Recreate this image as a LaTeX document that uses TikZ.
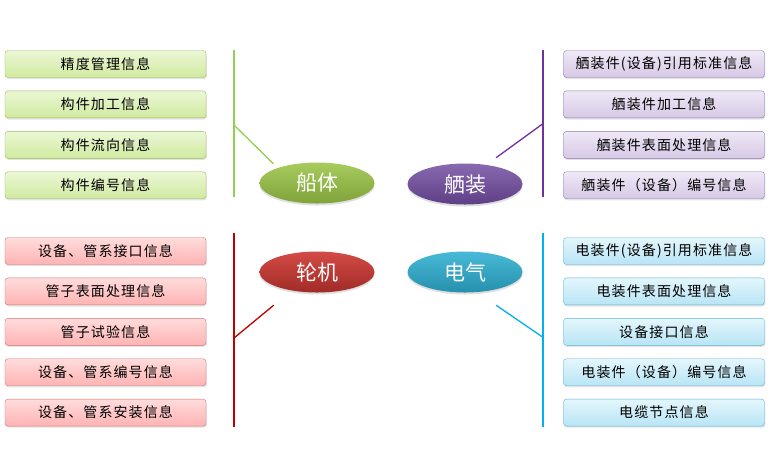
\documentclass[tikz,border=0pt]{standalone}
\usepackage{fontspec}
\newfontfamily\cjk{Noto Sans CJK SC}
\usetikzlibrary{
  positioning,
  shadows,
  shapes.geometric
}
\definecolor{hullline}{HTML}{92D050}
\definecolor{outfitline}{HTML}{7030A0}
\definecolor{engineline}{HTML}{C00000}
\definecolor{electricline}{HTML}{00B0F0}
\definecolor{hulltop}{HTML}{EBF7D5}
\definecolor{hullbottom}{HTML}{D0EAA0}
\definecolor{hullborder}{HTML}{9BBB59}
\definecolor{outfittop}{HTML}{EFE9F6}
\definecolor{outfitbottom}{HTML}{D6C8E6}
\definecolor{outfitborder}{HTML}{8E77AE}
\definecolor{enginetop}{HTML}{FFDCDC}
\definecolor{enginebottom}{HTML}{FFB3B3}
\definecolor{engineborder}{HTML}{D07573}
\definecolor{electrictop}{HTML}{E4F6FC}
\definecolor{electricbottom}{HTML}{B8E5F5}
\definecolor{electricborder}{HTML}{5FB6D0}
\definecolor{hullhubtop}{HTML}{A9CB5E}
\definecolor{hullhubbottom}{HTML}{7FA23A}
\definecolor{outfithubtop}{HTML}{8968B0}
\definecolor{outfithubbottom}{HTML}{5E3F86}
\definecolor{enginehubtop}{HTML}{D44B46}
\definecolor{enginehubbottom}{HTML}{A02B27}
\definecolor{electrichubtop}{HTML}{47BAD6}
\definecolor{electrichubbottom}{HTML}{2690AE}
\tikzset{
  infobox/.style={
    rounded corners=3pt,
    minimum width=201pt,
    minimum height=27pt,
    inner sep=0pt,
    font=\cjk\addfontfeature{LetterSpace=8}\fontsize{14}{16}\selectfont,
    drop shadow={shadow xshift=0.8pt, shadow yshift=-1.6pt, opacity=0.22}
  },
  hullbox/.style={infobox, draw=hullborder, top color=hulltop,
    bottom color=hullbottom},
  outfitbox/.style={infobox, draw=outfitborder, top color=outfittop,
    bottom color=outfitbottom},
  enginebox/.style={infobox, draw=engineborder, top color=enginetop,
    bottom color=enginebottom},
  electricbox/.style={infobox, draw=electricborder, top color=electrictop,
    bottom color=electricbottom},
  hub/.style={
    ellipse,
    minimum width=115pt,
    minimum height=41pt,
    inner sep=0pt,
    text=white,
    font=\cjk\fontsize{21}{23}\selectfont,
    drop shadow={shadow xshift=0pt, shadow yshift=-2pt, opacity=0.25}
  },
  spine/.style={line width=2pt},
  twig/.style={line width=1.3pt}
}

\begin{document}
\begin{tikzpicture}[x=1pt, y=-1pt, node distance=13pt]
  \useasboundingbox (0,0) rectangle (775,467);

  % Hub ellipses.
  \node[hub, top color=hullhubtop, bottom color=hullhubbottom]
    (hull) at (317,183) {船体};
  \node[hub, top color=outfithubtop, bottom color=outfithubbottom]
    (outfit) at (465,184) {舾装};
  \node[hub, top color=enginehubtop, bottom color=enginehubbottom]
    (engine) at (317,272) {轮机};
  \node[hub, top color=electrichubtop, bottom color=electrichubbottom]
    (electric) at (465,272) {电气};

  % Hull column.
  \node[hullbox] (hull1) at (105.5,64) {精度管理信息};
  \node[hullbox, below=of hull1] (hull2) {构件加工信息};
  \node[hullbox, below=of hull2] (hull3) {构件流向信息};
  \node[hullbox, below=of hull3] (hull4) {构件编号信息};

  % Outfitting column.
  \node[outfitbox] (outfit1) at (664,64) {舾装件(设备)引用标准信息};
  \node[outfitbox, below=of outfit1] (outfit2) {舾装件加工信息};
  \node[outfitbox, below=of outfit2] (outfit3) {舾装件表面处理信息};
  \node[outfitbox, below=of outfit3] (outfit4) {舾装件（设备）编号信息};

  % Engine column.
  \node[enginebox] (engine1) at (105.5,251) {设备、管系接口信息};
  \node[enginebox, below=of engine1] (engine2) {管子表面处理信息};
  \node[enginebox, below=of engine2] (engine3) {管子试验信息};
  \node[enginebox, below=of engine3] (engine4) {设备、管系编号信息};
  \node[enginebox, below=of engine4] (engine5) {设备、管系安装信息};

  % Electric column.
  \node[electricbox] (electric1) at (664,251) {电装件(设备)引用标准信息};
  \node[electricbox, below=of electric1] (electric2) {电装件表面处理信息};
  \node[electricbox, below=of electric2] (electric3) {设备接口信息};
  \node[electricbox, below=of electric3] (electric4) {电装件（设备）编号信息};
  \node[electricbox, below=of electric4] (electric5) {电缆节点信息};

  % Spines and twigs.
  \coordinate (hullspinetop) at (234,50);
  \coordinate (hullspinebot) at (234,197);
  \coordinate (hulljoin) at (234,125);
  \coordinate (outfitspinetop) at (542.5,50);
  \coordinate (outfitspinebot) at (542.5,197);
  \coordinate (outfitjoin) at (542.5,124);
  \coordinate (enginespinetop) at (234,233);
  \coordinate (enginespinebot) at (234,427);
  \coordinate (enginejoin) at (234,338);
  \coordinate (electricspinetop) at (542.5,233);
  \coordinate (electricspinebot) at (542.5,427);
  \coordinate (electricjoin) at (542.5,337);

  \draw[spine, hullline] (hullspinetop) -- (hullspinebot);
  \draw[twig, hullline, shorten >=6pt] (hulljoin) -- (hull.159);
  \draw[spine, outfitline] (outfitspinetop) -- (outfitspinebot);
  \draw[twig, outfitline, shorten >=12pt] (outfitjoin) -- (outfit.42);
  \draw[spine, engineline] (enginespinetop) -- (enginespinebot);
  \draw[twig, engineline, shorten >=23pt] (enginejoin) -- (engine.216);
  \draw[spine, electricline] (electricspinetop) -- (electricspinebot);
  \draw[twig, electricline, shorten >=23pt] (electricjoin) -- (electric.301);
\end{tikzpicture}
\end{document}
